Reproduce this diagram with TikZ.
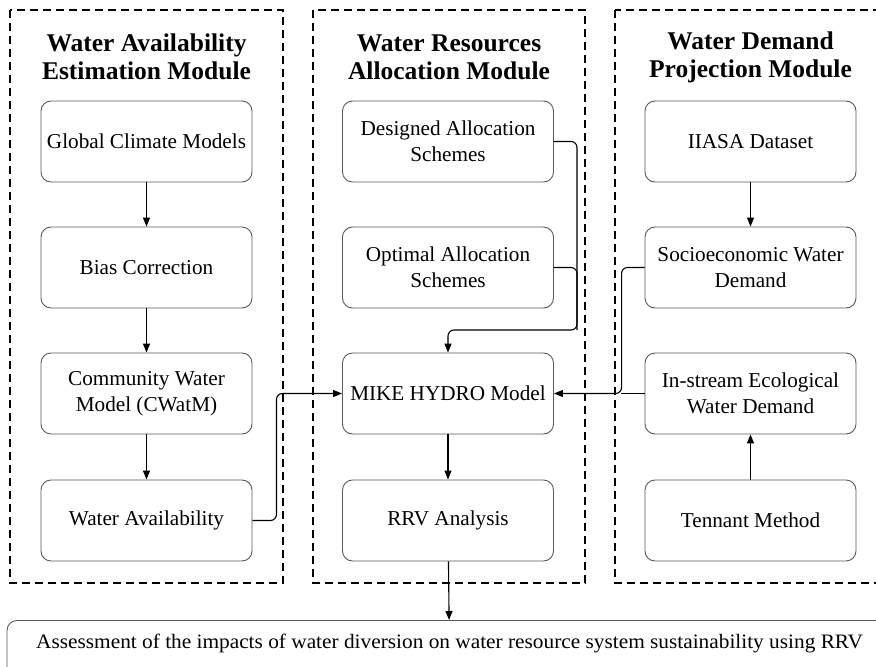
\documentclass[tikz,border=0pt]{standalone}
\usepackage{fontspec}
\setmainfont{Liberation Serif}
\newfontfamily\widefont[FakeStretch=1.04]{Liberation Serif}
\usetikzlibrary{arrows.meta}
\begin{document}
\begin{tikzpicture}[x=1pt,y=-1pt,
 box/.style={draw=black!65, rounded corners=10pt, minimum width=211pt, minimum height=81pt, align=center, font=\fontsize{21.2}{26}\selectfont, line width=0.9pt, inner sep=2pt},
 module/.style={draw, dash pattern=on 8pt off 5pt, line width=1.2pt},
 ttl/.style={font=\fontsize{25.5}{28}\selectfont\bfseries, align=center},
 arr/.style={-{Triangle[length=9pt,width=7pt]}},
 conn/.style={line width=1.1pt, rounded corners=6pt}]
\useasboundingbox (0,0) rectangle (876,667);
\clip (0,0) rectangle (876,667);
% modules
\draw[module] (10,10) rectangle (283,583);
\draw[module] (313,10) rectangle (585,583);
\draw[module] (615,10) rectangle (890,583);
\node[ttl] (t1) at (146.5,57) {Water Availability\\Estimation Module};
\node[ttl] (t2) at (449,57) {Water Resources\\Allocation Module};
\node[ttl] (t3) at (750.5,57) {Water Demand\\Projection Module};
% left column
\node[box] (gcm) at (146.5,141.5) {Global Climate Models};
\node[box] (bias) at (146.5,267.5) {Bias Correction};
\node[box] (cwat) at (146.5,393.5) {Community Water\\Model (CWatM)};
\node[box] (wa) at (146.5,520.5) {Water Availability};
% middle column
\node[box] (des) at (448,141.5) {Designed Allocation\\Schemes};
\node[box] (opt) at (448,267.5) {Optimal Allocation\\Schemes};
\node[box] (mike) at (448,393.5) {MIKE HYDRO Model};
\node[box] (rrv) at (448,520.5) {RRV Analysis};
% right column
\node[box] (iiasa) at (750.5,141.5) {IIASA Dataset};
\node[box] (soc) at (750.5,267.5) {Socioeconomic Water\\Demand};
\node[box] (eco) at (750.5,393.5) {In-stream Ecological\\Water Demand};
\node[box] (ten) at (750.5,520.5) {Tennant Method};
% bottom
\node[box, minimum width=885pt, minimum height=70pt, anchor=north] (assess) at (449.5,620) {};
\node[font=\widefont\fontsize{20.5}{24}\selectfont] (assesstxt) at (449.5,643) {Assessment of the impacts of water diversion on water resource system sustainability using RRV};
% connectors
\draw[conn,arr] (gcm) -- (bias);
\draw[conn,arr] (bias) -- (cwat);
\draw[conn,arr] (cwat) -- (wa);
\draw[conn,arr] (iiasa) -- (soc);
\draw[conn,arr] (ten) -- (eco);
\draw[conn,arr] (mike) -- (rrv);
\draw[conn,arr] (rrv) -- (assess);
\coordinate (j1) at (577,330);
\draw[conn] (opt.east) -| (j1);
\draw[conn,arr] (des.east) -| (j1) -| (mike.north);
\draw[conn,arr] (wa.east) -- ++(24,0) |- (mike.west);
\draw[conn,arr] (soc.west) -- ++(-23,0) |- (mike.east);
\draw[conn] (eco.west) -- ++(-24,0);
\end{tikzpicture}
\end{document}
